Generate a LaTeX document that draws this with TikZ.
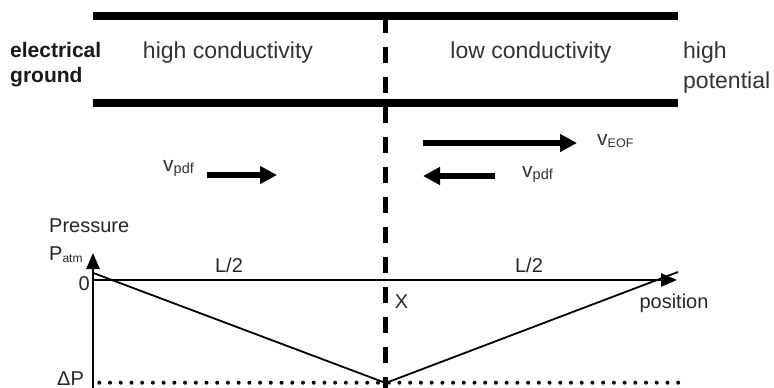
\documentclass[tikz,border=0pt]{standalone}
\usepackage{fontspec}
\setmainfont{Liberation Sans}
\usetikzlibrary{arrows.meta}

% lowered subscript of a given size
\newcommand\lowsub[2]{\raisebox{-2pt}{\fontsize{#1}{#1}\selectfont #2}}

\begin{document}
\begin{tikzpicture}[x=1pt,y=-1pt,
  wall/.style={line width=8pt},
  divider/.style={line width=4.5pt, dash pattern=on 16pt off 14pt},
  flow/.style={line width=5.5pt, -{Triangle[length=17pt,width=17pt]}},
  axisline/.style={line width=2.6pt, -{Triangle[length=16pt,width=13pt]}},
  profile/.style={line width=1.8pt},
  dotline/.style={line width=4pt, line cap=round, dash pattern=on 0pt off 10.72pt},
  boldlbl/.style={font=\fontsize{21}{23}\selectfont\bfseries, text=black!90, inner sep=0pt},
  toplbl/.style={font=\fontsize{23}{25}\selectfont, text=black!80, inner sep=0pt},
  vlbl/.style={font=\fontsize{21}{23}\selectfont, text=black!80, inner sep=0pt},
  plotlbl/.style={font=\fontsize{20}{22}\selectfont, text=black!85, inner sep=0pt}]
\useasboundingbox (0,0) rectangle (774,388);

% channel walls
\coordinate (wallTL) at (93,15.5);
\coordinate (wallTR) at (678,15.5);
\coordinate (wallBL) at (93,102.5);
\coordinate (wallBR) at (678,102.5);
\draw[wall] (wallTL) -- (wallTR);
\draw[wall] (wallBL) -- (wallBR);

% conductivity interface
\coordinate (divTop) at (385.7,17);
\coordinate (divBot) at (385.7,388);
\draw[divider] (divTop) -- (divBot);

% region labels
\node[boldlbl, anchor=base west] (ground1) at (10,57) {electrical};
\node[boldlbl, anchor=base west] (ground2) at (10,82) {ground};
\node[toplbl, anchor=base] (hicond) at (228,58) {high conductivity};
\node[toplbl, anchor=base] (locond) at (531,58) {low conductivity};
\node[toplbl, anchor=base west] (hipot1) at (683,58) {high};
\node[toplbl, anchor=base west] (hipot2) at (683,88) {potential};

% velocity arrows
\coordinate (eofS) at (423,143);
\coordinate (eofE) at (577,143);
\coordinate (pdfLS) at (207,175);
\coordinate (pdfLE) at (277,175);
\coordinate (pdfRS) at (495,176);
\coordinate (pdfRE) at (423,176);
\draw[flow] (eofS) -- (eofE);
\draw[flow] (pdfLS) -- (pdfLE);
\draw[flow] (pdfRS) -- (pdfRE);
\node[vlbl, anchor=base west] (veof) at (597,145) {v\lowsub{12.5}{EOF}};
\node[vlbl, anchor=base west] (vpdfL) at (163,171) {v\lowsub{14.5}{pdf}};
\node[vlbl, anchor=base west] (vpdfR) at (522,177) {v\lowsub{14.5}{pdf}};

% pressure plot axes
\coordinate (yBot) at (93,388);
\coordinate (yTop) at (93,253);
\coordinate (origin) at (93,280);
\coordinate (xEnd) at (677,280);
\draw[axisline] (yBot) -- (yTop);
\draw[axisline] (origin) -- (xEnd);

% pressure level of the minimum
\coordinate (dotS) at (99.3,382.7);
\coordinate (dotE) at (678.3,382.7);
\draw[dotline] (dotS) -- (dotE);

% pressure profile
\coordinate (pStart) at (93.3,273);
\coordinate (pMin) at (385.7,383);
\coordinate (pEnd) at (678,272);
\draw[profile] (pStart) -- (pMin) -- (pEnd);

% plot labels
\node[plotlbl, anchor=base west] (plab) at (49,232) {Pressure};
\node[plotlbl, anchor=base west] (patm) at (49,260) {P\lowsub{12}{atm}};
\node[plotlbl, anchor=base east] (zero) at (90,290) {0};
\node[plotlbl, anchor=base] (halfL) at (229,272) {L/2};
\node[plotlbl, anchor=base] (halfR) at (529,272) {L/2};
\node[plotlbl, anchor=base] (xlab) at (401.5,308) {X};
\node[plotlbl, anchor=base] (poslab) at (674,308) {position};
\node[plotlbl, anchor=base west] (dplab) at (57,385) {ΔP};
\end{tikzpicture}
\end{document}
